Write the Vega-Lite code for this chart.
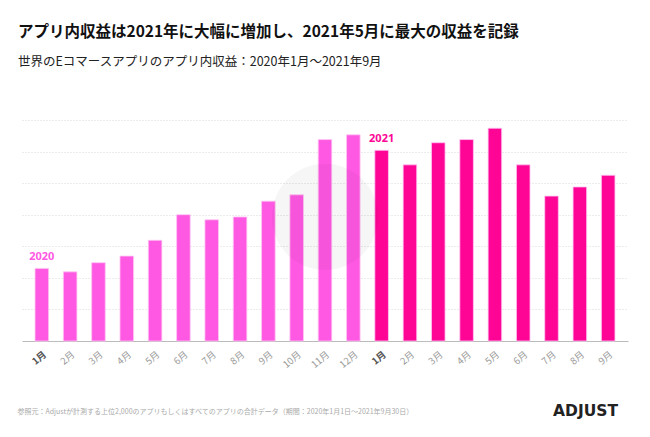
{
  "$schema": "https://vega.github.io/schema/vega-lite/v6.json",
  "autosize": "none",
  "width": 606,
  "height": 221,
  "padding": {"left": 22, "top": 120, "right": 22, "bottom": 96},
  "background": "#ffffff",
  "config": {
    "font": "Noto Sans CJK JP",
    "view": {"stroke": null}
  },
  "title": {
    "text": "アプリ内収益は2021年に大幅に増加し、2021年5月に最大の収益を記録",
    "subtitle": "世界のEコマースアプリのアプリ内収益：2020年1月～2021年9月",
    "anchor": "start",
    "frame": "group",
    "dx": -4,
    "offset": 52,
    "fontSize": 15.5,
    "fontWeight": "bold",
    "color": "#111111",
    "subtitleFontSize": 12.5,
    "subtitleColor": "#222222",
    "subtitlePadding": 15
  },
  "datasets": {
    "rev": [
      {"key": "2020年1月", "year": "2020", "month": 1, "value": 2.30},
      {"key": "2020年2月", "year": "2020", "month": 2, "value": 2.19},
      {"key": "2020年3月", "year": "2020", "month": 3, "value": 2.48},
      {"key": "2020年4月", "year": "2020", "month": 4, "value": 2.69},
      {"key": "2020年5月", "year": "2020", "month": 5, "value": 3.19},
      {"key": "2020年6月", "year": "2020", "month": 6, "value": 4.00},
      {"key": "2020年7月", "year": "2020", "month": 7, "value": 3.84},
      {"key": "2020年8月", "year": "2020", "month": 8, "value": 3.93},
      {"key": "2020年9月", "year": "2020", "month": 9, "value": 4.43},
      {"key": "2020年10月", "year": "2020", "month": 10, "value": 4.63},
      {"key": "2020年11月", "year": "2020", "month": 11, "value": 6.38},
      {"key": "2020年12月", "year": "2020", "month": 12, "value": 6.53},
      {"key": "2021年1月", "year": "2021", "month": 1, "value": 6.04},
      {"key": "2021年2月", "year": "2021", "month": 2, "value": 5.58},
      {"key": "2021年3月", "year": "2021", "month": 3, "value": 6.28},
      {"key": "2021年4月", "year": "2021", "month": 4, "value": 6.38},
      {"key": "2021年5月", "year": "2021", "month": 5, "value": 6.74},
      {"key": "2021年6月", "year": "2021", "month": 6, "value": 5.58},
      {"key": "2021年7月", "year": "2021", "month": 7, "value": 4.59},
      {"key": "2021年8月", "year": "2021", "month": 8, "value": 4.88},
      {"key": "2021年9月", "year": "2021", "month": 9, "value": 5.25}
    ],
    "mark": [
      {"key": "2020年11月", "value": 3.93}
    ]
  },
  "data": {"name": "rev"},
  "encoding": {
    "x": {
      "field": "key",
      "type": "ordinal",
      "sort": null,
      "scale": {"paddingInner": 0.52, "paddingOuter": 0.46},
      "axis": {
        "title": "参照元：Adjustが計測する上位2,000のアプリもしくはすべてのアプリの合計データ（期間：2020年1月1日〜2021年9月30日）",
        "titleX": -5,
        "titleY": 70,
        "titleAlign": "left",
        "titleAnchor": "start",
        "titleBaseline": "middle",
        "titleFontSize": 7,
        "titleFontWeight": "normal",
        "titleColor": "#aaaaaa",
        "labelExpr": "split(datum.value, '年')[1]",
        "labelAngle": -40,
        "labelFontSize": 9.5,
        "labelColor": {"condition": {"test": "indexof(datum.value, '年1月') >= 0", "value": "#555555"}, "value": "#999999"},
        "labelFontWeight": {"condition": {"test": "indexof(datum.value, '年1月') >= 0", "value": "bold"}, "value": "normal"},
        "labelPadding": 8,
        "ticks": false,
        "domainColor": "#bbbbbb",
        "domainWidth": 1.2
      }
    },
    "y": {
      "field": "value",
      "type": "quantitative",
      "scale": {"domain": [0, 7], "nice": false},
      "axis": {
        "values": [1, 2, 3, 4, 5, 6, 7],
        "labels": false,
        "ticks": false,
        "domain": false,
        "grid": true,
        "gridColor": "#d8d8d8",
        "gridDash": [1, 2],
        "gridWidth": 1,
        "title": "ADJUST",
        "titleAngle": 0,
        "titleX": 563,
        "titleY": 290,
        "titleAlign": "center",
        "titleBaseline": "middle",
        "titleFont": "DejaVu Sans",
        "titleFontSize": 15.5,
        "titleFontWeight": "bold",
        "titleColor": "#222222"
      }
    },
    "color": {
      "field": "year",
      "type": "nominal",
      "scale": {"domain": ["2020", "2021"], "range": ["#ff59e3", "#ff0596"]},
      "legend": null
    }
  },
  "layer": [
    {"mark": {"type": "bar", "stroke": "#ffc6f2", "strokeWidth": 0.8}},
    {
      "transform": [{"filter": "datum.month == 1"}],
      "mark": {"type": "text", "dy": -11, "fontSize": 11, "fontWeight": "bold", "font": "Noto Sans"},
      "encoding": {"text": {"field": "year"}}
    },
    {
      "data": {"name": "mark"},
      "mark": {"type": "point", "filled": true, "size": 11300, "color": "#000000", "opacity": 0.035},
      "encoding": {"color": {"value": "#000000"}}
    }
  ]
}
